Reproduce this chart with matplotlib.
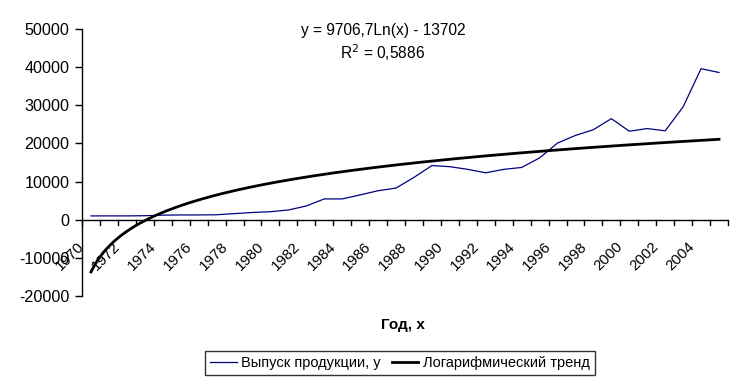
import numpy as np
import matplotlib
matplotlib.use("Agg")
import matplotlib.pyplot as plt
from matplotlib.lines import Line2D

plt.rcParams['font.family'] = ['Liberation Sans', 'DejaVu Sans']

years = list(range(1970, 2006))
output = [1000, 1000, 1000, 1050, 1200, 1250, 1250, 1300, 1600, 1900,
          2100, 2550, 3600, 5450, 5450, 6500, 7600, 8300, 11100, 14200,
          13900, 13200, 12300, 13200, 13700, 16200, 20100, 22100, 23600, 26500,
          23200, 23900, 23300, 29600, 39600, 38600]
coef_a = 9706.7
coef_b = -13702
yticks = [-20000, -10000, 0, 10000, 20000, 30000, 40000, 50000]
tick_labels = [str(y) for y in years]

n = len(years)
xs = np.arange(n)
trend_x = np.linspace(0, n - 1, 400)
trend_y = coef_a * np.log(trend_x + 1) + coef_b

fig = plt.figure(figsize=(7.43, 3.85), dpi=100)
ax = fig.add_axes([82/743, 1 - 296/385, (728 - 82)/743, (296 - 29)/385])

ax.plot(xs, output, color='#000080', lw=0.9, zorder=3)
ax.plot(trend_x, trend_y, color='black', lw=2.0, zorder=4)

ax.set_xlim(-0.5, n - 0.5)
ax.set_ylim(-20000, 50000)
ax.set_yticks(yticks)
ax.set_yticklabels([str(v) for v in yticks], fontsize=11.6)
ax.tick_params(axis='y', direction='out', length=5, width=1, pad=4)

for s in ['top', 'right', 'bottom']:
    ax.spines[s].set_visible(False)
ax.spines['left'].set_linewidth(1)

# x axis at y=0 with tick marks between categories
ax.axhline(0, color='black', lw=1, zorder=5)
ax.set_xticks([])
for b in np.arange(n + 1) - 0.5:
    ax.plot([b, b], [0, -1300], color='black', lw=1, clip_on=False, zorder=5)

for i, lab in enumerate(tick_labels):
    if i % 2 == 0:
        ax.annotate(lab, xy=(i, 0), xycoords='data',
                    xytext=(-10, -14), textcoords='offset points',
                    rotation=45, rotation_mode='anchor',
                    ha='right', va='top', fontsize=10.8)

fig.text(383/743, 1 - 30/385, 'y = 9706,7Ln(x) - 13702', ha='center', va='center', fontsize=11.2)
fig.text(383/743, 1 - 53/385, 'R$^2$ = 0,5886', ha='center', va='center', fontsize=11.2)

fig.text(403/743, 1 - 325/385, 'Год, х', ha='center', va='center', fontsize=11, fontweight='bold')

handles = [Line2D([], [], color='#000080', lw=0.9),
           Line2D([], [], color='black', lw=2.0)]
leg = fig.legend(handles, ['Выпуск продукции, у', 'Логарифмический тренд'],
                 loc='center', bbox_to_anchor=(400/743, 1 - 363/385), ncol=2,
                 fontsize=10.5, frameon=True, fancybox=False, handlelength=1.8,
                 handletextpad=0.3, columnspacing=0.8, borderpad=0.35,
                 edgecolor='black')
leg.get_frame().set_linewidth(1)

fig.savefig('out.png', dpi=100)
